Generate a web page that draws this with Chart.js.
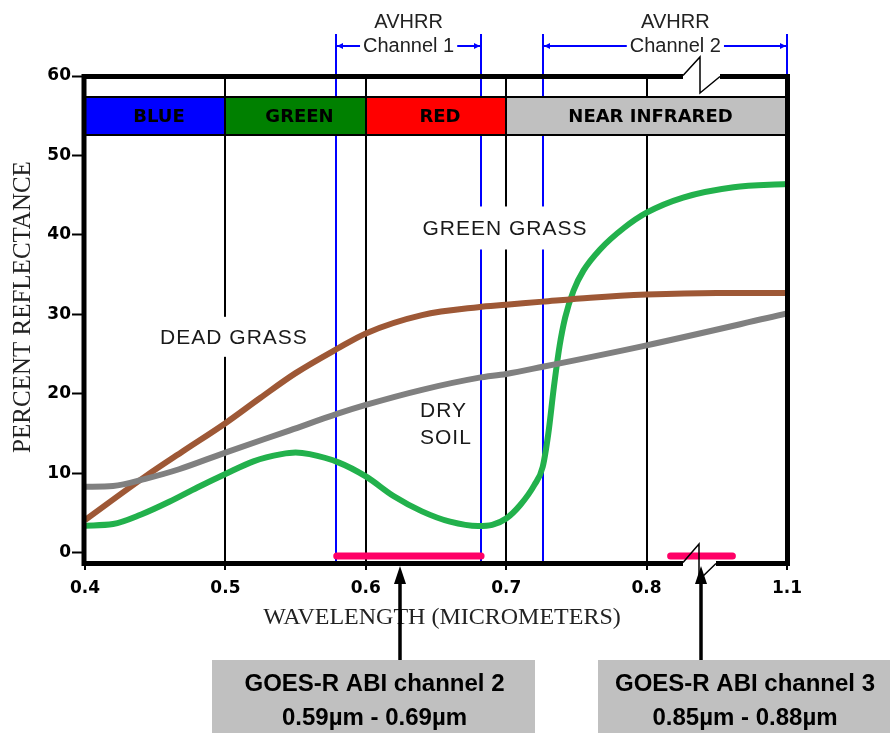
<!DOCTYPE html>
<html><head><meta charset="utf-8">
<script src="https://cdn.jsdelivr.net/npm/chart.js@4.4.0/dist/chart.umd.min.js"></script>
<style>html,body{margin:0;padding:0;background:#fff;}canvas{display:block;}</style>
</head><body>
<canvas id="c" width="890" height="733"></canvas>
<script>
// ---- data (x = position on the broken wavelength axis, y = percent reflectance) ----
const greenGrassX = [0.40,0.42,0.44,0.46,0.48,0.50,0.52,0.54,0.55,0.56,0.58,0.60,0.62,0.64,0.66,0.68,0.69,0.70,0.71,0.72,0.726,0.730,0.734,0.738,0.742,0.748,0.755,0.767,0.784,0.80,0.826,0.862,0.90];
const greenGrassY = [3.4,3.6,4.8,6.4,8.2,9.9,11.5,12.4,12.6,12.4,11.4,9.6,7.1,5.2,3.9,3.35,3.5,4.3,6.0,8.5,10.8,15.0,20.9,26.0,29.6,33.0,35.5,38.2,40.9,42.8,44.7,46.0,46.4];
const deadGrassX = [0.40,0.443,0.47,0.50,0.525,0.55,0.58,0.60,0.64,0.68,0.70,0.726,0.76,0.80,0.85,0.90];
const deadGrassY = [4.1,9.6,12.8,16.3,19.5,22.6,25.7,27.6,29.9,30.9,31.2,31.6,32.1,32.5,32.7,32.7];
const drySoilX = [0.40,0.42,0.443,0.467,0.50,0.546,0.58,0.60,0.64,0.68,0.70,0.726,0.80,0.90];
const drySoilY = [8.3,8.4,9.3,10.5,12.6,15.4,17.5,18.6,20.5,22.0,22.5,23.4,26.1,30.1];

const xTickValues = [0.4,0.5,0.6,0.7,0.8,0.9];
const xTickLabels = ['0.4','0.5','0.6','0.7','0.8','1.1'];
const yTickValues = [0,10,20,30,40,50,60];

const bandStart = [0.4,0.5,0.6,0.7];
const bandEnd = [0.5,0.6,0.7,0.9];
const bandNames = ['BLUE','GREEN','RED','NEAR INFRARED'];
const bandColors = ['#0000ff','#008000','#ff0000','#c0c0c0'];
const bandRange = [52.6, 57.4];

const avhrrEdges = [0.579, 0.682, 0.726, 0.9];
const avhrrNames = ['Channel 1','Channel 2'];
const avhrrLabelX = [0.6305, 0.8205];

const goesCh2 = [0.5793, 0.6821];
const goesCh3 = [0.8171, 0.8611];
const goesLevel = -0.42;
const goesArrowX = [0.6243, 0.8386];
const goesTitles = ['GOES-R ABI channel 2','GOES-R ABI channel 3'];
const goesRanges = ['0.59\u00b5m - 0.69\u00b5m','0.85\u00b5m - 0.88\u00b5m'];

const curveLabels = [
  {text:'GREEN GRASS', x:0.6991, y:40.87, box:[170,43]},
  {text:'DEAD GRASS', x:0.5061, y:27.17, box:[164,40]},
];
const soilLabel = {lines:['DRY','SOIL'], x:0.6386, y:[17.75,14.44]};

const pts = (xs, ys) => xs.map((v,i)=>({x:v, y:ys[i]}));

const decor = {
  id:'decor',
  beforeDatasetsDraw(chart){
    const {ctx, chartArea:a, scales:{x,y}} = chart;
    ctx.save();
    // AVHRR edge lines
    ctx.strokeStyle='#0000ff'; ctx.lineWidth=2;
    avhrrEdges.forEach(v=>{
      const px=Math.round(x.getPixelForValue(v));
      ctx.beginPath(); ctx.moveTo(px,34); ctx.lineTo(px,a.bottom); ctx.stroke();
    });
    // spectral band strip
    const yt=Math.round(y.getPixelForValue(bandRange[1])), yb=Math.round(y.getPixelForValue(bandRange[0]));
    bandStart.forEach((s,i)=>{
      const x0=Math.round(x.getPixelForValue(s)), x1=Math.round(x.getPixelForValue(bandEnd[i]));
      ctx.fillStyle=bandColors[i]; ctx.fillRect(x0,yt,x1-x0,yb-yt);
      ctx.strokeStyle='#000'; ctx.lineWidth=2; ctx.strokeRect(x0,yt,x1-x0,yb-yt);
      ctx.fillStyle='#000'; ctx.font='bold 18px "DejaVu Sans"';
      ctx.textAlign='center'; ctx.textBaseline='middle';
      ctx.fillText(bandNames[i], (x0+x1)/2+4, (yt+yb)/2+1);
    });
    // curve labels with white backing
    ctx.font='21px "Liberation Sans"'; ctx.letterSpacing='1px';
    curveLabels.forEach(l=>{
      const px=x.getPixelForValue(l.x), py=y.getPixelForValue(l.y);
      ctx.fillStyle='#fff'; ctx.fillRect(px-l.box[0]/2, py-l.box[1]/2, l.box[0], l.box[1]);
      ctx.fillStyle='#1a1a1a'; ctx.textAlign='center'; ctx.textBaseline='middle';
      ctx.fillText(l.text, px, py+1);
    });
    ctx.textAlign='left';
    soilLabel.lines.forEach((t,i)=>{
      ctx.fillText(t, x.getPixelForValue(soilLabel.x), y.getPixelForValue(soilLabel.y[i]));
    });
    ctx.letterSpacing='0px';
    ctx.restore();
  },
  afterDatasetsDraw(chart){
    const {ctx, chartArea:a, scales:{x,y}} = chart;
    ctx.save();
    ctx.strokeStyle='#000'; ctx.lineCap='butt';
    // axes (thick)
    ctx.lineWidth=5;
    const L=84, R=787.5, T=76.5, B=563.5, b1=683, b2=720, c1=683, c2=716;
    ctx.beginPath();
    ctx.moveTo(L,T-2.5); ctx.lineTo(L,B+2.5);
    ctx.moveTo(R,T-2.5); ctx.lineTo(R,B+2.5);
    ctx.moveTo(L-2.5,T); ctx.lineTo(b1,T); ctx.moveTo(b2,T); ctx.lineTo(R+2.5,T);
    ctx.moveTo(L-2.5,B); ctx.lineTo(c1,B); ctx.moveTo(c2,B); ctx.lineTo(R+2.5,B);
    ctx.stroke();
    // axis breaks
    ctx.lineWidth=1.5;
    ctx.beginPath();
    ctx.moveTo(b1,T-1); ctx.lineTo(700,57); ctx.lineTo(700,93); ctx.lineTo(b2,T);
    ctx.moveTo(c1,B-1); ctx.lineTo(699,544); ctx.lineTo(699,580); ctx.lineTo(c2,B);
    ctx.stroke();
    // AVHRR annotations
    ctx.font='20px "Liberation Sans"'; ctx.fillStyle='#222'; ctx.textAlign='center'; ctx.textBaseline='middle';
    [[0,1],[2,3]].forEach((pair,i)=>{
      const cx=x.getPixelForValue(avhrrLabelX[i]);
      ctx.fillText('AVHRR', cx, 22);
      ctx.fillText(avhrrNames[i], cx, 46);
      const w=ctx.measureText(avhrrNames[i]).width;
      const xl=Math.round(x.getPixelForValue(avhrrEdges[pair[0]])), xr=Math.round(x.getPixelForValue(avhrrEdges[pair[1]]));
      ctx.strokeStyle='#0000ff'; ctx.lineWidth=2;
      ctx.beginPath(); ctx.moveTo(xl,46); ctx.lineTo(cx-w/2-3,46); ctx.moveTo(cx+w/2+3,46); ctx.lineTo(xr,46); ctx.stroke();
      ctx.fillStyle='#0000ff';
      ctx.beginPath(); ctx.moveTo(xl+1,46); ctx.lineTo(xl+7,43); ctx.lineTo(xl+7,49); ctx.closePath(); ctx.fill();
      ctx.beginPath(); ctx.moveTo(xr-1,46); ctx.lineTo(xr-7,43); ctx.lineTo(xr-7,49); ctx.closePath(); ctx.fill();
      ctx.fillStyle='#222';
    });
    // axis titles
    ctx.fillStyle='#222'; ctx.font='24px "Liberation Serif"';
    ctx.fillText('WAVELENGTH (MICROMETERS)', 442, 618);
    ctx.save(); ctx.translate(23,307); ctx.rotate(-Math.PI/2);
    ctx.font='25px "Liberation Serif"';
    ctx.fillText('PERCENT REFLECTANCE', 0, 0); ctx.restore();
    // GOES boxes
    const boxes=[[212,535],[598,890]];
    boxes.forEach((bx,i)=>{
      ctx.fillStyle='#c0c0c0'; ctx.fillRect(bx[0],660,bx[1]-bx[0],73);
      ctx.fillStyle='#000'; ctx.font='bold 24px "Liberation Sans"';
      const cx=(bx[0]+bx[1])/2+1;
      ctx.fillText(goesTitles[i], cx, 684);
      ctx.fillText(goesRanges[i], cx, 718);
    });
    // arrows
    goesArrowX.forEach(v=>{
      const px=Math.round(x.getPixelForValue(v));
      ctx.strokeStyle='#000'; ctx.lineWidth=3.5;
      ctx.beginPath(); ctx.moveTo(px,580); ctx.lineTo(px,660); ctx.stroke();
      ctx.fillStyle='#000';
      ctx.beginPath(); ctx.moveTo(px,566); ctx.lineTo(px-6,584); ctx.lineTo(px+6,584); ctx.closePath(); ctx.fill();
    });
    ctx.restore();
  }
};

const tickFont = {family:'DejaVu Sans', size:17, weight:'bold'};
new Chart(document.getElementById('c'), {
  type:'line',
  data:{datasets:[
    {data:pts(drySoilX,drySoilY), borderColor:'#808080'},
    {data:pts(deadGrassX,deadGrassY), borderColor:'#9e5836'},
    {data:pts(greenGrassX,greenGrassY), borderColor:'#22b14c'},
    {data:pts(goesCh2,[goesLevel,goesLevel]), borderColor:'#ff0066', borderWidth:7, borderCapStyle:'round', cubicInterpolationMode:'default', tension:0},
    {data:pts(goesCh3,[goesLevel,goesLevel]), borderColor:'#ff0066', borderWidth:7, borderCapStyle:'round', cubicInterpolationMode:'default', tension:0},
  ]},
  options:{
    responsive:false, animation:false, devicePixelRatio:1,
    layout:{padding:{top:76,right:103,left:0,bottom:0}},
    elements:{line:{borderWidth:6, cubicInterpolationMode:'monotone', fill:false}, point:{radius:0}},
    plugins:{legend:{display:false}, tooltip:{enabled:false}},
    scales:{
      x:{type:'linear', min:0.4, max:0.9,
        afterBuildTicks:s=>{s.ticks=xTickValues.map(v=>({value:v}));},
        afterFit:s=>{s.height=170;},
        grid:{color:c=>(c.tick && (Math.abs(c.tick.value-0.4)<1e-6 || Math.abs(c.tick.value-0.9)<1e-6)) ? 'rgba(0,0,0,0)' : '#000',
              lineWidth:2, tickColor:'#000', tickLength:7, tickWidth:2},
        border:{display:false},
        ticks:{callback:(v,i)=>xTickLabels[i], font:tickFont, color:'#000', padding:8, maxRotation:0, autoSkip:false}
      },
      y:{min:-1.3, max:60,
        afterBuildTicks:s=>{s.ticks=yTickValues.map(v=>({value:v}));},
        afterFit:s=>{s.width=85;},
        grid:{drawOnChartArea:false, tickColor:'#000', tickLength:13, tickWidth:2},
        border:{display:false},
        ticks:{font:tickFont, color:'#000', padding:1}
      }
    }
  },
  plugins:[decor]
});
</script>
</body></html>
